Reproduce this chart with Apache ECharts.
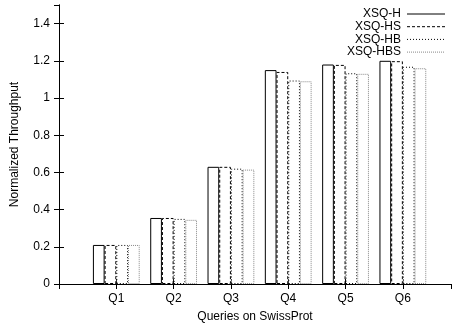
<!DOCTYPE html>
<html><head><meta charset="utf-8">
<script src="https://cdn.jsdelivr.net/npm/echarts@6/dist/echarts.min.js"></script>
<style>html,body{margin:0;padding:0;background:#fff}#c{width:458px;height:328px}</style>
</head><body><div id="c"></div>
<script>
var categories = ['Q1','Q2','Q3','Q4','Q5','Q6'];
var seriesNames = ['XSQ-H','XSQ-HS','XSQ-HB','XSQ-HBS'];
var valH   = [0.21, 0.355, 0.63, 1.15, 1.18, 1.20];
var valHS  = [0.21, 0.355, 0.63, 1.14, 1.178, 1.198];
var valHB  = [0.21, 0.35, 0.62, 1.094, 1.133, 1.168];
var valHBS = [0.21, 0.345, 0.615, 1.09, 1.13, 1.16];
var yTicks = [0, 0.2, 0.4, 0.6, 0.8, 1, 1.2, 1.4];

var allVals = [valH, valHS, valHB, valHBS];
var styles = [
  {borderColor:'#000', borderType:'solid'},
  {borderColor:'#000', borderType:[3,2]},
  {borderColor:'#000', borderType:[1,2]},
  {borderColor:'#888', borderType:[1,1]}
];
var font = 'Liberation Sans, Arial, sans-serif';
var series = seriesNames.map(function(n,i){
  return {
    name:n, type:'bar', xAxisIndex:0, yAxisIndex:0,
    barWidth:11.7, barGap:'0%',
    data: allVals[i].map(function(v,j){return [j+1, v];}),
    itemStyle:{color:'#fff', borderWidth:1, borderColor:styles[i].borderColor, borderType:styles[i].borderType},
    silent:true, animation:false
  };
});

var chart = echarts.init(document.getElementById('c'), null, {renderer:'canvas'});
var legendItems = [];
var lx2 = 445, lx1 = 407, ly0 = 14, ldy = 12.7;
seriesNames.forEach(function(n,i){
  legendItems.push({type:'text', right: 458-401, top: ly0 + i*ldy - 6,
    style:{text:n, font:'12px '+font, fill:'#000', textAlign:'right'}});
  legendItems.push({type:'line', shape:{x1:lx1, y1:ly0+i*ldy, x2:lx2, y2:ly0+i*ldy},
    style:{stroke:styles[i].borderColor, lineWidth:1, lineDash: styles[i].borderType==='solid'?null:styles[i].borderType}});
});

var axisLabelStyle = {color:'#000', fontFamily:font, fontSize:12};
chart.setOption({
  animation:false,
  grid:{left:59, right:7, top:5, bottom:40},
  xAxis:[{
    type:'value', min:0, max:6.84, interval:1, position:'bottom',
    name:'Queries on SwissProt', nameLocation:'middle', nameGap:27,
    nameTextStyle:{color:'#000', fontFamily:font, fontSize:12},
    axisLine:{show:true, lineStyle:{color:'#000', width:1}},
    axisTick:{show:true, inside:true, length:5, lineStyle:{color:'#000'}},
    splitLine:{show:false},
    axisLabel:Object.assign({margin:9, showMinLabel:false, showMaxLabel:false, formatter:function(v){var k=Math.round(v); return (k>=1&&k<=categories.length&&Math.abs(k-v)<1e-6)?categories[k-1]:'';}}, axisLabelStyle)
  },{
    type:'value', min:0, max:6.84, interval:1, position:'top',
    axisLine:{show:true, lineStyle:{color:'#000', width:1}},
    axisTick:{show:true, inside:true, length:5, lineStyle:{color:'#000'}},
    axisLabel:{show:false}, splitLine:{show:false}
  }],
  yAxis:[{
    type:'value', min:0, max:1.5, interval:0.2, position:'left',
    name:'Normalized Throughput', nameLocation:'middle', nameGap:38,
    nameTextStyle:{color:'#000', fontFamily:font, fontSize:12},
    axisLine:{show:true, lineStyle:{color:'#000', width:1}},
    axisTick:{show:true, inside:true, length:5, lineStyle:{color:'#000'}},
    splitLine:{show:false},
    axisLabel:Object.assign({margin:9, showMaxLabel:false, formatter:function(v){ for(var i=0;i<yTicks.length;i++){ if(Math.abs(yTicks[i]-v)<1e-6) return String(yTicks[i]); } return ''; }}, axisLabelStyle)
  },{
    type:'value', min:0, max:1.5, interval:0.2, position:'right',
    axisLine:{show:true, lineStyle:{color:'#000', width:1}},
    axisTick:{show:true, inside:true, length:5, lineStyle:{color:'#000'}},
    axisLabel:{show:false}, splitLine:{show:false}
  }],
  series:series,
  graphic:legendItems
});
</script></body></html>
